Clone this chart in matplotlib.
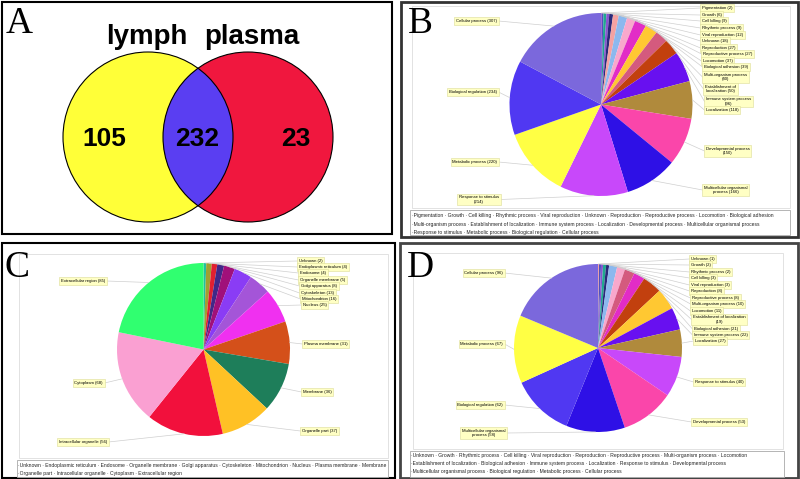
import matplotlib
matplotlib.use("Agg")
import matplotlib.pyplot as plt
from matplotlib.patches import Circle, Rectangle
import numpy as np

# ---------------- data ----------------
venn_sets = ["lymph", "plasma"]
venn_counts = [105, 232, 23]          # lymph only, both, plasma only

bp_cats = ["Pigmentation", "Growth", "Cell killing", "Rhythmic process", "Viral reproduction",
           "Unknown", "Reproduction", "Reproductive process", "Locomotion", "Biological adhesion",
           "Multi-organism process", "Establishment of localization", "Immune system process",
           "Localization", "Developmental process", "Multicellular organismal process",
           "Response to stimulus", "Metabolic process", "Biological regulation", "Cellular process"]
bp_vals = [2, 6, 9, 9, 12, 18, 27, 27, 37, 39, 40, 50, 96, 118, 150, 166, 214, 220, 234, 307]

cc_cats = ["Unknown", "Endoplasmic reticulum", "Endosome", "Organelle membrane", "Golgi apparatus",
           "Cytoskeleton", "Mitochondrion", "Nucleus", "Plasma membrane", "Membrane",
           "Organelle part", "Intracellular organelle", "Cytoplasm", "Extracellular region"]
cc_vals = [2, 4, 4, 5, 8, 13, 16, 25, 31, 36, 37, 56, 68, 85]

dp_cats = ["Unknown", "Growth", "Rhythmic process", "Cell killing", "Viral reproduction",
           "Reproduction", "Reproductive process", "Multi-organism process", "Locomotion",
           "Establishment of localization", "Biological adhesion", "Immune system process",
           "Localization", "Response to stimulus", "Developmental process",
           "Multicellular organismal process", "Biological regulation", "Metabolic process",
           "Cellular process"]
dp_vals = [1, 2, 2, 3, 3, 8, 8, 10, 11, 19, 21, 22, 27, 40, 53, 58, 62, 67, 96]

# ---------------- styles ----------------
bp_colors = {
    "Cellular process": "#7B68DC", "Biological regulation": "#5038F2", "Metabolic process": "#FFFF44",
    "Response to stimulus": "#C848FA", "Multicellular organismal process": "#2E10E6",
    "Developmental process": "#FA46AA", "Localization": "#B08A3C", "Immune system process": "#6810F0",
    "Establishment of localization": "#C2400E", "Multi-organism process": "#D45A7E",
    "Biological adhesion": "#FFC832", "Locomotion": "#E22CC6", "Reproductive process": "#F8A8CC",
    "Reproduction": "#8CB8EE", "Unknown": "#F4A2A2", "Viral reproduction": "#2A2A7A",
    "Rhythmic process": "#8855D0", "Cell killing": "#20A890", "Growth": "#5050C0",
    "Pigmentation": "#C030C0"}
cc_colors = {
    "Unknown": "#20C0A0", "Endoplasmic reticulum": "#A0A030", "Endosome": "#E02030",
    "Organelle membrane": "#402888", "Golgi apparatus": "#A0107A", "Cytoskeleton": "#8A3CF5",
    "Mitochondrion": "#A455D8", "Nucleus": "#F030F0", "Plasma membrane": "#D4501A",
    "Membrane": "#1E7E5A", "Organelle part": "#FFC125", "Intracellular organelle": "#F2103C",
    "Cytoplasm": "#FAA0D2", "Extracellular region": "#30FF70"}

W, H = 800, 479
LBL_FONT = dict(family="Liberation Sans", fontsize=3.1)
LEG_FONT = dict(family="Liberation Sans", fontsize=3.6, color="#222222")
BOX = dict(boxstyle="square,pad=0.35", fc="#FFFFC4", ec="#DCDC98", lw=0.4)

fig = plt.figure(figsize=(W / 100, H / 100), dpi=100)
ov = fig.add_axes([0, 0, 1, 1], zorder=3)
ov.set_xlim(0, W)
ov.set_ylim(H, 0)
ov.axis("off")

# ---------------- panel frames ----------------
ov.add_patch(Rectangle((1.5, 1.5), 390, 232, fill=False, ec="black", lw=1.5))
ov.add_patch(Rectangle((400.5, 1.5), 397, 235, fill=False, ec="#333333", lw=2))
ov.add_patch(Rectangle((1.5, 243), 393, 234.5, fill=False, ec="black", lw=1.5))
ov.add_patch(Rectangle((400, 243), 397.5, 234.5, fill=False, ec="#444444", lw=2))

# inner light frames + legend boxes
for (x, y, w, h) in [(412, 6, 378, 202), (19, 254, 369, 204), (413, 253, 370, 196)]:
    ov.add_patch(Rectangle((x, y), w, h, fill=False, ec="#DDDDDD", lw=0.6))
for (x, y, w, h) in [(410, 210, 380, 25), (17, 460, 371, 17), (410, 451, 374, 26)]:
    ov.add_patch(Rectangle((x, y), w, h, fc="white", ec="#A8A8A8", lw=0.6))

# panel letters
for letter, (x, y) in zip("ABCD", [(6, 33), (408, 33), (5, 277), (407, 277)]):
    ov.text(x, y, letter, family="Liberation Serif", fontsize=27, va="baseline", ha="left")

# ---------------- panel A: Venn ----------------
cy_v, r_v = 137, 85
c_left = Circle((148, cy_v), r_v, fc="#FFFF38", ec="none")
c_right = Circle((248, cy_v), r_v, fc="#F0173E", ec="none")
ov.add_patch(c_left)
ov.add_patch(c_right)
c_mid = Circle((248, cy_v), r_v, fc="#5A3EF2", ec="none")
ov.add_patch(c_mid)
c_mid.set_clip_path(c_left)
ov.add_patch(Circle((148, cy_v), r_v, fill=False, ec="black", lw=0.8))
ov.add_patch(Circle((248, cy_v), r_v, fill=False, ec="black", lw=0.8))
for name, x in zip(venn_sets, [147, 252]):
    ov.text(x, 44, name, family="Liberation Sans", weight="bold", fontsize=20,
            ha="center", va="baseline")
for n, x in zip(venn_counts, [104, 197, 296]):
    ov.text(x, 146, str(n), family="Liberation Sans", weight="bold", fontsize=19,
            ha="center", va="baseline")


# ---------------- pies ----------------
def label_text(cat, val, wrap):
    if cat in wrap:
        words = cat.split()
        n = wrap[cat]
        first = " ".join(words[:n])
        rest = " ".join(words[n:])
        return first + "\n" + ((rest + " ") if rest else "") + f"({val})"
    return f"{cat} ({val})"


def pie_panel(cats, vals, cmap, cx, cy, r, layout, wrap, legend_split, leg_x, leg_y0):
    ax = fig.add_axes([(cx - r) / W, (H - cy - r) / H, 2 * r / W, 2 * r / H], zorder=1)
    ax.pie(vals, colors=[cmap[c] for c in cats], startangle=90, counterclock=False,
           wedgeprops=dict(linewidth=0))
    ax.set_xlim(-1, 1)
    ax.set_ylim(-1, 1)
    v = np.asarray(vals, float)
    mids = (np.cumsum(v) - v / 2) / v.sum() * 2 * np.pi   # clockwise from top
    for cat, (side, x, y) in layout.items():
        i = cats.index(cat)
        px = cx + r * np.sin(mids[i])
        py = cy - r * np.cos(mids[i])
        ex = x - 1.5 if side == "R" else x + 1.5
        ov.plot([px, ex], [py, y], color="#CFCFCF", lw=0.5, zorder=1)
        ov.text(x, y, label_text(cat, vals[i], wrap), ha="left" if side == "R" else "right",
                va="center", multialignment="center", bbox=BOX, zorder=2, **LBL_FONT)
    k = 0
    for j, n in enumerate(legend_split):
        line = "·" + " · ".join(cats[k:k + n])
        k += n
        ov.text(leg_x, leg_y0 + 8 * j, line, ha="left", va="center", **LEG_FONT)


B_layout = {
    "Cellular process": ("L", 497, 21), "Biological regulation": ("L", 497, 92),
    "Metabolic process": ("L", 497, 162), "Response to stimulus": ("L", 499, 199.5),
    "Pigmentation": ("R", 702, 8), "Growth": ("R", 702, 15), "Cell killing": ("R", 702, 21),
    "Rhythmic process": ("R", 702, 28), "Viral reproduction": ("R", 702, 35),
    "Unknown": ("R", 702, 41), "Reproduction": ("R", 702, 48),
    "Reproductive process": ("R", 703, 54), "Locomotion": ("R", 703, 61),
    "Biological adhesion": ("R", 704, 67), "Multi-organism process": ("R", 704, 77),
    "Establishment of localization": ("R", 705, 89), "Immune system process": ("R", 706, 101.5),
    "Localization": ("R", 706, 110), "Developmental process": ("R", 706, 151),
    "Multicellular organismal process": ("R", 704, 190)}
B_wrap = {"Multi-organism process": 2, "Establishment of localization": 2,
          "Immune system process": 3, "Developmental process": 2,
          "Multicellular organismal process": 2, "Response to stimulus": 3}

C_layout = {
    "Extracellular region": ("L", 105, 281), "Cytoplasm": ("L", 103, 383),
    "Intracellular organelle": ("L", 107, 442),
    "Unknown": ("R", 299, 261), "Endoplasmic reticulum": ("R", 299, 267),
    "Endosome": ("R", 300, 273), "Organelle membrane": ("R", 300, 280),
    "Golgi apparatus": ("R", 301, 286), "Cytoskeleton": ("R", 301, 293),
    "Mitochondrion": ("R", 302, 299), "Nucleus": ("R", 303, 305),
    "Plasma membrane": ("R", 304, 344), "Membrane": ("R", 303, 392),
    "Organelle part": ("R", 302, 431)}

D_layout = {
    "Cellular process": ("L", 503, 273), "Metabolic process": ("L", 503, 344),
    "Biological regulation": ("L", 503, 405), "Multicellular organismal process": ("L", 505, 433),
    "Unknown": ("R", 691, 259), "Growth": ("R", 691, 265), "Rhythmic process": ("R", 691, 272),
    "Cell killing": ("R", 691, 278), "Viral reproduction": ("R", 691, 285),
    "Reproduction": ("R", 691, 291), "Reproductive process": ("R", 692, 298),
    "Multi-organism process": ("R", 692, 304), "Locomotion": ("R", 692, 311),
    "Establishment of localization": ("R", 693, 319.5), "Biological adhesion": ("R", 694, 329),
    "Immune system process": ("R", 694, 335), "Localization": ("R", 695, 341),
    "Response to stimulus": ("R", 695, 382), "Developmental process": ("R", 693, 422)}
D_wrap = {"Establishment of localization": 3, "Multicellular organismal process": 2}

pie_panel(bp_cats, bp_vals, bp_colors, 601, 104.5, 91.5, B_layout, B_wrap, [10, 6, 4], 412, 216)
pie_panel(cc_cats, cc_vals, cc_colors, 203.5, 349.5, 86.5, C_layout, {}, [10, 4], 18, 466)
pie_panel(dp_cats, dp_vals, bp_colors, 598, 348, 84, D_layout, D_wrap, [9, 6, 4], 411, 456)

fig.savefig("out.png", dpi=100)
